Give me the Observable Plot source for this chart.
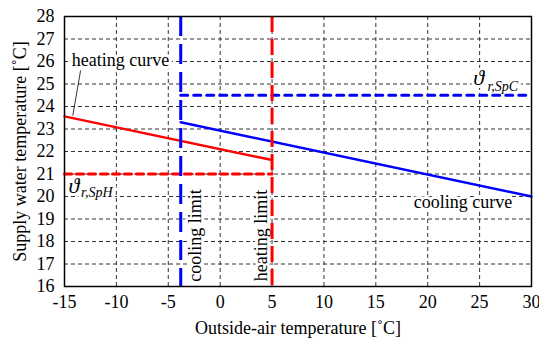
<!DOCTYPE html>
<html>
<head>
<meta charset="utf-8">
<script src="https://cdn.jsdelivr.net/npm/d3@7"></script>
<script src="https://cdn.jsdelivr.net/npm/@observablehq/plot@0.6"></script>
<style>
  html, body { margin: 0; padding: 0; background: #fff; }
  #chart svg { display: block; }
  #chart svg text { font-family: "Liberation Serif", "DejaVu Serif", serif; }
</style>
</head>
<body>
<div id="chart"></div>
<script>
// Tick values
const xTicks = [-15, -10, -5, 0, 5, 10, 15, 20, 25, 30];
const yTicks = [16, 17, 18, 19, 20, 21, 22, 23, 24, 25, 26, 27, 28];

// Heating curve (outside-air temp -> supply water temp)
const heatingX = [-15, 5];
const heatingY = [23.56, 21.62];

// Cooling curve
const coolingX = [-3.8, 30];
const coolingY = [23.3, 20.0];

// Setpoints
const setpointC = 24.5;  // ϑ r,SpC
const setpointCRange = [-3.8, 30];
const setpointH = 21;    // ϑ r,SpH
const setpointHRange = [-15, 5];

// Limits
const coolingLimit = -3.8;
const heatingLimit = 5;

const heating = heatingX.map((x, i) => ({x, y: heatingY[i]}));
const cooling = coolingX.map((x, i) => ({x, y: coolingY[i]}));
const spC = setpointCRange.map(x => ({x, y: setpointC}));
const spH = setpointHRange.map(x => ({x, y: setpointH}));

const RED = "#ff0000", BLUE = "#0000ff";
const halo = {stroke: "white", strokeWidth: 6, fill: "black"};
const FS = 18;

const chart = Plot.plot({
  width: 539,
  height: 343,
  marginLeft: 64,
  marginRight: 8,
  marginTop: 16,
  marginBottom: 57,
  style: {fontFamily: "Liberation Serif, DejaVu Serif, serif", fontSize: "18px", background: "white", color: "black"},
  x: {domain: [-15, 30]},
  y: {domain: [16, 28]},
  marks: [
    Plot.ruleX(xTicks, {stroke: "#333", strokeWidth: 1, strokeDasharray: "4,3"}),
    Plot.ruleY(yTicks, {stroke: "#333", strokeWidth: 1, strokeDasharray: "4,3"}),
    // annotations with white background
    Plot.text(["heating curve"], {x: -14.3, y: 26.05, text: d => d, textAnchor: "start", fontSize: FS, ...halo}),
    Plot.text(["cooling curve"], {x: 23.4, y: 19.73, text: d => d, fontSize: FS, ...halo}),
    Plot.text(["ϑ"], {x: 24.9, y: 25.25, text: d => d, fontSize: 22, fontStyle: "italic", ...halo}),
    Plot.text(["r,SpC"], {x: 25.75, y: 24.88, text: d => d, textAnchor: "start", fontSize: 14, fontStyle: "italic", ...halo}),
    Plot.text(["ϑ"], {x: -14.1, y: 20.45, text: d => d, fontSize: 22, fontStyle: "italic", ...halo}),
    Plot.text(["r,SpH"], {x: -13.4, y: 20.18, text: d => d, textAnchor: "start", fontSize: 14, fontStyle: "italic", ...halo}),
    Plot.text(["cooling limit"], {x: -2.4, y: 18.27, text: d => d, rotate: -90, fontSize: FS, ...halo}),
    Plot.text(["heating limit"], {x: 4.0, y: 18.27, text: d => d, rotate: -90, fontSize: FS, ...halo}),
    // leader line
    Plot.link([{x1: -13.45, y1: 25.6, x2: -14.2, y2: 23.6}], {x1: "x1", y1: "y1", x2: "x2", y2: "y2", stroke: "black", strokeWidth: 0.8}),
    // setpoints
    Plot.line(spC, {x: "x", y: "y", stroke: BLUE, strokeWidth: 3, strokeDasharray: "7,6"}),
    Plot.line(spH, {x: "x", y: "y", stroke: RED, strokeWidth: 3, strokeDasharray: "7,5"}),
    // curves
    Plot.line(heating, {x: "x", y: "y", stroke: RED, strokeWidth: 2.5}),
    Plot.line(cooling, {x: "x", y: "y", stroke: BLUE, strokeWidth: 2.5}),
    // limits
    Plot.ruleX([coolingLimit], {stroke: BLUE, strokeWidth: 3, strokeDasharray: "20,8"}),
    Plot.ruleX([heatingLimit], {stroke: RED, strokeWidth: 3, strokeDasharray: "16,7"}),
    Plot.frame({stroke: "black", strokeWidth: 1.5}),
    Plot.axisX(xTicks, {tickSize: 0, tickPadding: 9, label: null, fontSize: FS, tickFormat: d => String(d)}),
    Plot.axisY(yTicks, {tickSize: 0, tickPadding: 10, label: null, fontSize: FS, tickFormat: d => String(d)}),
    Plot.text(["Outside-air temperature [˚C]"], {frameAnchor: "bottom", dy: 42, lineAnchor: "middle", textAnchor: "middle", fontSize: FS}),
    Plot.text(["Supply water temperature [˚C]"], {frameAnchor: "left", dx: -44, rotate: -90, textAnchor: "middle", lineAnchor: "middle", fontSize: FS})
  ]
});
document.getElementById("chart").appendChild(chart);
</script>
</body>
</html>
